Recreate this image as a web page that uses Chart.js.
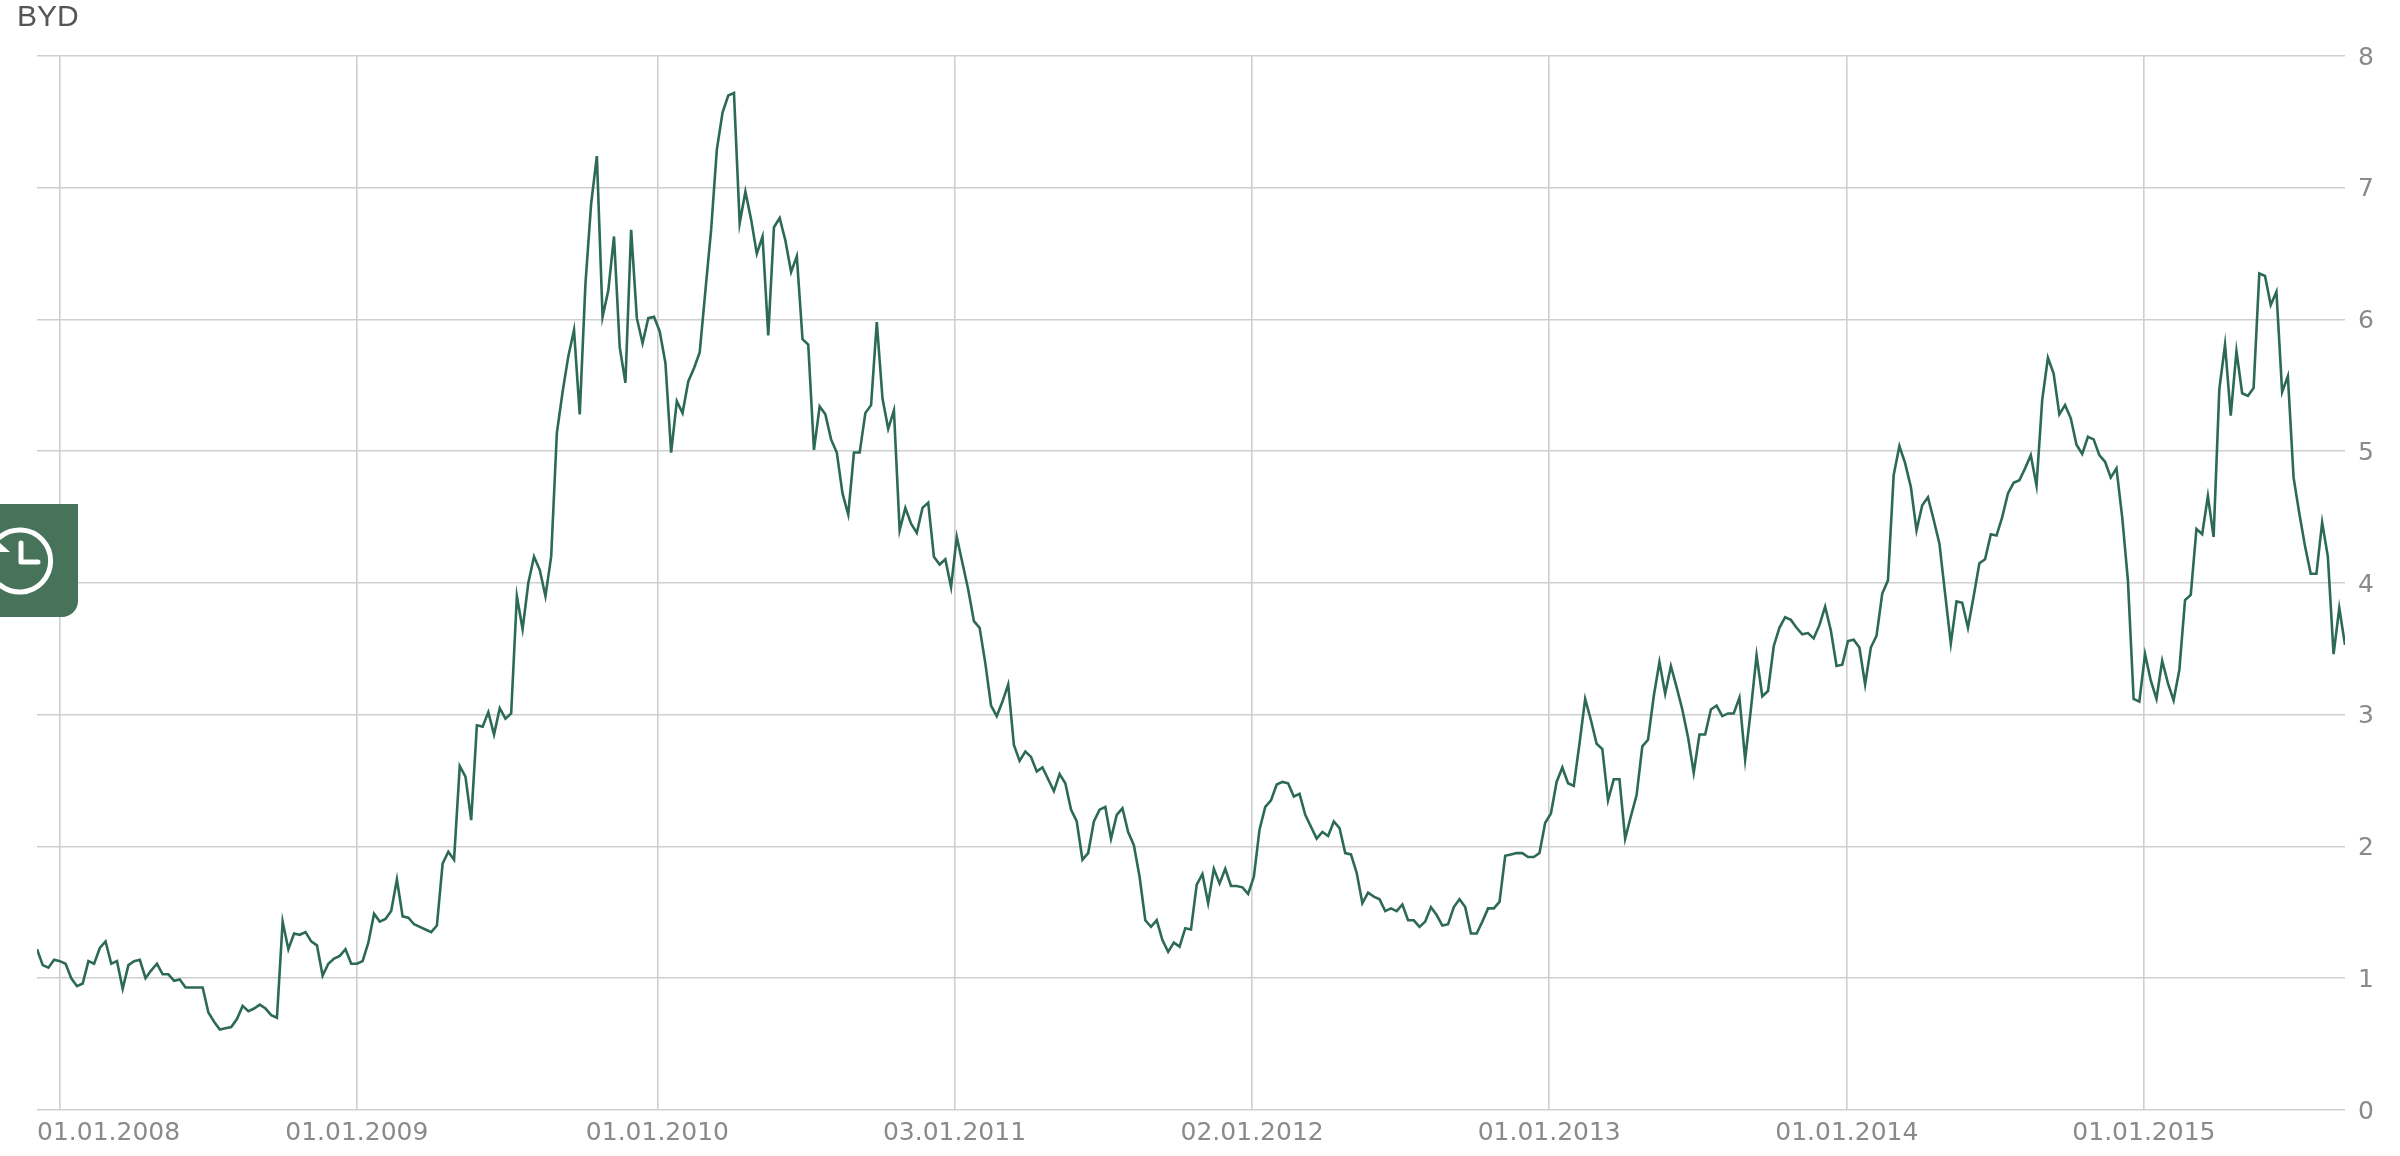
<!DOCTYPE html>
<html>
<head>
<meta charset="utf-8">
<title>BYD</title>
<script src="https://cdn.jsdelivr.net/npm/chart.js@4"></script>
<style>
    html, body { margin: 0; padding: 0; background: #fff; overflow: hidden; }
    #wrap { position: relative; width: 2400px; height: 1156px; }
    #priceChart { position: absolute; left: 0; top: 0; filter: blur(0.7px); }
    #stockName { position: absolute; left: 17px; top: -1px; font: 30px "Liberation Sans", sans-serif; color: #555; line-height: 34px; filter: blur(0.4px); }
    #historyTab { position: absolute; left: 0; top: 504px; width: 78px; height: 113px; background: #47735a; border-bottom-right-radius: 16px; overflow: hidden; }
</style>
</head>
<body>
<div id="wrap">
    <canvas id="priceChart" width="2400" height="1156"></canvas>
    <div id="stockName">BYD</div>
    <div id="historyTab">
        <svg width="78" height="113" viewBox="0 0 78 113" fill="none" stroke="#fff" stroke-width="5" stroke-linecap="round" stroke-linejoin="round">
            <path d="M 0 33 A 31 31 0 1 1 0 81" />
            <path d="M 0 39 L 10 48 L 0 48 Z" fill="#fff" stroke="none" />
            <path d="M 21 39 L 21 58 L 38 58" />
        </svg>
    </div>
</div>
<script>
// weekly closes
const prices2007 = [1.22, 1.10, 1.08, 1.14];
const prices2008 = [
    1.13, 1.11, 1.00, 0.94, 0.96, 1.13, 1.11, 1.23, 1.28, 1.11, 1.13, 0.92, 1.10,
    1.13, 1.14, 1.00, 1.06, 1.11, 1.03, 1.03, 0.98, 0.99, 0.93, 0.93, 0.93, 0.93,
    0.74, 0.67, 0.61, 0.62, 0.63, 0.69, 0.79, 0.75, 0.77, 0.80, 0.77, 0.72, 0.70,
    1.43, 1.22, 1.34, 1.33, 1.35, 1.28, 1.25, 1.02, 1.11, 1.15, 1.17, 1.22, 1.11
];
const prices2009 = [
    1.11, 1.13, 1.27, 1.49, 1.43, 1.45, 1.51, 1.75, 1.47, 1.46, 1.41, 1.39, 1.37,
    1.35, 1.40, 1.87, 1.96, 1.90, 2.61, 2.53, 2.20, 2.92, 2.91, 3.02, 2.85, 3.05,
    2.97, 3.01, 3.90, 3.65, 4.00, 4.20, 4.10, 3.90, 4.20, 5.14, 5.45, 5.72, 5.92,
    5.28, 6.27, 6.88, 7.24, 6.02, 6.22, 6.63, 5.79, 5.52, 6.68, 6.01, 5.82, 6.01
];
const prices2010 = [
    6.02, 5.91, 5.67, 4.99, 5.38, 5.29, 5.53, 5.63, 5.75, 6.22, 6.68, 7.29, 7.57,
    7.70, 7.72, 6.73, 6.97, 6.76, 6.50, 6.63, 5.88, 6.70, 6.77, 6.60, 6.36, 6.48,
    5.85, 5.81, 5.01, 5.34, 5.28, 5.09, 4.99, 4.68, 4.52, 4.99, 4.99, 5.29, 5.35,
    5.98, 5.40, 5.17, 5.31, 4.40, 4.57, 4.45, 4.38, 4.57, 4.61, 4.20, 4.14, 4.18
];
const prices2011 = [
    3.97, 4.35, 4.15, 3.95, 3.71, 3.66, 3.39, 3.07, 2.99, 3.10, 3.23, 2.77, 2.65,
    2.72, 2.68, 2.57, 2.60, 2.51, 2.42, 2.55, 2.48, 2.28, 2.19, 1.90, 1.95, 2.19,
    2.28, 2.30, 2.06, 2.24, 2.29, 2.11, 2.01, 1.77, 1.44, 1.39, 1.44, 1.29, 1.20,
    1.27, 1.24, 1.38, 1.37, 1.71, 1.79, 1.57, 1.83, 1.72, 1.83, 1.70, 1.70, 1.69
];
const prices2012 = [
    1.64, 1.77, 2.13, 2.30, 2.35, 2.47, 2.49, 2.48, 2.38, 2.40, 2.24, 2.15, 2.06,
    2.11, 2.08, 2.19, 2.14, 1.95, 1.94, 1.80, 1.57, 1.65, 1.62, 1.60, 1.51, 1.53,
    1.51, 1.56, 1.44, 1.44, 1.39, 1.43, 1.54, 1.48, 1.40, 1.41, 1.54, 1.60, 1.54,
    1.34, 1.34, 1.43, 1.53, 1.53, 1.58, 1.93, 1.94, 1.95, 1.95, 1.92, 1.92, 1.95
];
const prices2013 = [
    2.18, 2.25, 2.49, 2.60, 2.48, 2.46, 2.78, 3.12, 2.96, 2.78, 2.74, 2.35, 2.51,
    2.51, 2.06, 2.23, 2.39, 2.76, 2.81, 3.14, 3.40, 3.16, 3.37, 3.21, 3.04, 2.83,
    2.56, 2.85, 2.85, 3.04, 3.07, 2.99, 3.01, 3.01, 3.13, 2.66, 3.04, 3.45, 3.14,
    3.18, 3.52, 3.66, 3.74, 3.72, 3.66, 3.61, 3.62, 3.58, 3.68, 3.82, 3.64, 3.37
];
const prices2014 = [
    3.38, 3.56, 3.57, 3.51, 3.23, 3.51, 3.60, 3.92, 4.02, 4.82, 5.04, 4.91, 4.73,
    4.40, 4.59, 4.65, 4.48, 4.30, 3.92, 3.54, 3.86, 3.85, 3.66, 3.90, 4.15, 4.18,
    4.37, 4.36, 4.50, 4.68, 4.76, 4.78, 4.87, 4.97, 4.74, 5.39, 5.71, 5.59, 5.28,
    5.35, 5.25, 5.05, 4.98, 5.11, 5.09, 4.97, 4.92, 4.80, 4.87, 4.50, 4.02, 3.12
];
const prices2015 = [
    3.10, 3.46, 3.26, 3.12, 3.41, 3.24, 3.11, 3.34, 3.87, 3.91, 4.41, 4.37, 4.66,
    4.35, 5.47, 5.81, 5.27, 5.76, 5.44, 5.42, 5.48, 6.35, 6.33, 6.11, 6.21, 5.45,
    5.57, 4.80, 4.53, 4.28, 4.07, 4.07, 4.46, 4.20, 3.46, 3.81, 3.53
];

const tickWeeks = [4.02, 55.99, 108.6, 160.6, 212.7, 264.7, 316.8, 368.8];
const tickLabels = ['01.01.2008', '01.01.2009', '01.01.2010', '03.01.2011', '02.01.2012', '01.01.2013', '01.01.2014', '01.01.2015'];
const yTicks = [0, 1, 2, 3, 4, 5, 6, 7, 8];

const prices = [].concat(prices2007, prices2008, prices2009, prices2010, prices2011, prices2012, prices2013, prices2014, prices2015);
const points = prices.map((p, i) => ({ x: i, y: p }));

const axisFont = { family: '"DejaVu Sans"', size: 25 };
const gridColor = '#cfcfcf';

// first date label starts at the plot edge instead of under its gridline,
// y labels sit a touch lower than the library centres them
const labelShiftPlugin = {
    id: 'labelShift',
    beforeDraw(chart) {
        const first = chart.scales.x.getLabelItems(chart.chartArea)[0];
        first.options.textAlign = 'left';
        first.options.translation[0] = chart.chartArea.left;
        chart.scales.y.getLabelItems(chart.chartArea).forEach(item => { item.options.translation[1] += 2; });
    }
};

new Chart(document.getElementById('priceChart').getContext('2d'), {
    type: 'line',
    data: {
        datasets: [{
            data: points,
            borderColor: '#2c6a57',
            borderWidth: 2.6,
            pointRadius: 0,
            tension: 0,
            fill: false
        }]
    },
    plugins: [labelShiftPlugin],
    options: {
        responsive: false,
        animation: false,
        layout: { padding: { left: 37, right: 0, top: 56, bottom: 0 } },
        plugins: { legend: { display: false }, title: { display: false }, tooltip: { enabled: false } },
        scales: {
            x: {
                type: 'linear',
                min: 0,
                max: prices.length - 1,
                afterBuildTicks: (scale) => { scale.ticks = tickWeeks.map(w => ({ value: w })); },
                afterFit: (scale) => { scale.height = 46; scale.paddingLeft = 0; scale.paddingRight = 0; },
                grid: { color: gridColor, lineWidth: 1.6, drawTicks: false },
                border: { display: false },
                ticks: {
                    autoSkip: false,
                    maxRotation: 0,
                    padding: 8,
                    color: '#8a8a8a',
                    font: axisFont,
                    callback: (value, index) => tickLabels[index]
                }
            },
            y: {
                position: 'right',
                min: 0,
                max: 8,
                afterBuildTicks: (scale) => { scale.ticks = yTicks.map(v => ({ value: v })); },
                afterFit: (scale) => { scale.width = 55; scale.paddingTop = 0; scale.paddingBottom = 0; },
                grid: { color: gridColor, lineWidth: 1.6, drawTicks: false },
                border: { display: false },
                ticks: { padding: 13, color: '#8a8a8a', font: axisFont }
            }
        }
    }
});
</script>
</body>
</html>
